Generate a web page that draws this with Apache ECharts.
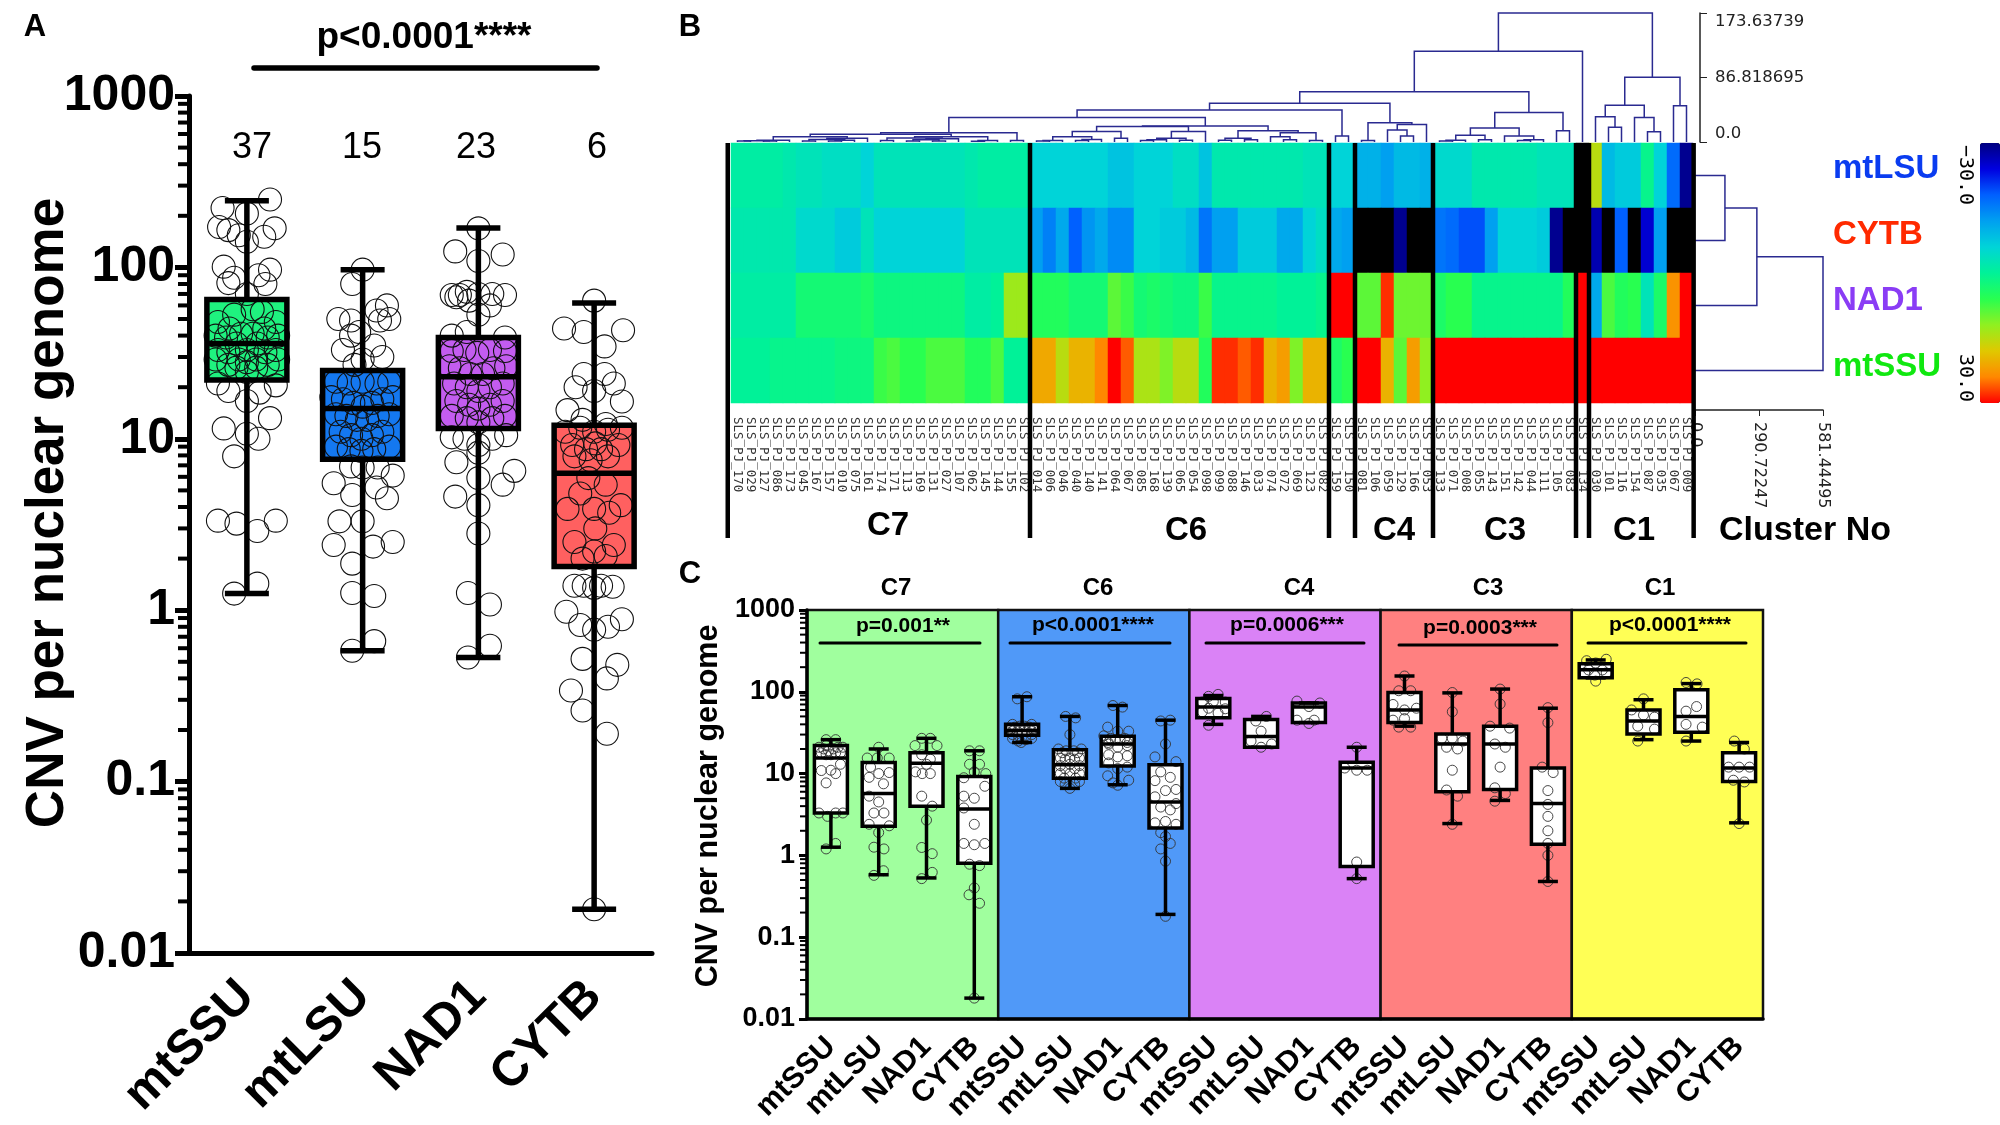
<!DOCTYPE html>
<html><head><meta charset="utf-8">
<script src="https://cdn.jsdelivr.net/npm/echarts@6/dist/echarts.min.js"></script>
<style>html,body{margin:0;padding:0;background:#fff}#c{width:2000px;height:1125px}</style>
</head><body><div id="c"></div>
<script>
// ---------- DATA ----------
const genes = ['mtSSU','mtLSU','NAD1','CYTB'];
const logTickLabels = ['0.01','0.1','1','10','100','1000'];
const nCounts = ['37','15','23','6'];
// [low, q1, median, q3, high]
const boxA = [[1.25,22,36,65,245],[0.58,7.6,15,25,97],[0.53,11.5,23,39,170],[0.018,1.8,6.3,12,62]];
const boxColorsA = ['#1ff27f','#1478f0','#c35cf0','#ff6060'];
// points: [horizontal spread in band units, value]
const ptsA_mtSSU = [[.20,249],[-.21,222],[0,206],[-.24,172],[.24,169],[-.16,165],[-.07,154],[.15,151],[0,141],[-.2,101],[.2,97],[-.11,87],[.10,90],[-.16,81],[.16,80],[0,70],[.05,57],[-.11,53],[.13,55],
[-.25,48],[-.15,44],[-.05,41],[.05,41],[.15,44],[.25,48],[-.27,40],[-.18,39],[-.09,36],[0,33],[.09,36],[.18,39],[.27,40],[-.25,33],[-.16,32],[-.07,29],[0,28],[.08,29],[.16,32],[.25,33],[-.27,29],[-.16,27],[-.09,26],[0,24.5],[.08,26],[.18,27],[.27,29],
[-.25,21],[-.16,19],[.25,20.5],[.11,18.6],[0,16.6],[-.2,11.5],[.2,13.2],[0,10.7],[.1,10],[-.11,7.9],[-.25,3.33],[-.09,3.2],[.09,2.9],[.25,3.33],[-.11,1.25],[.09,1.43]];
const ptsA_mtLSU = [[0,97],[-.09,80],[.21,60],[.12,56],[-.21,50],[-.1,49],[.23,50],[.15,49],[-.03,42],[-.1,40],[-.17,33],[.1,35],[0,29],[.17,30],[-.07,27],
[-.23,21.5],[-.12,21],[0,21.5],[.12,21],[.23,21.5],[-.27,17.5],[-.17,17],[-.08,16.2],[0,15.4],[.08,16.2],[.17,17],[.26,17.5],[-.23,13.9],[-.14,13.6],[-.05,12.9],[.04,12.9],[.13,13.6],[.23,13.9],[-.19,11],[-.1,10.5],[-.01,10],[.08,10.5],[.17,11],[-.23,9],[-.12,8.7],[-.01,8.5],[.1,8.7],[.23,9],
[-.1,6.9],[0,6.8],[.13,6.8],[-.25,5.5],[.26,6.1],[-.09,4.7],[.12,5.2],[.21,4.5],[-.2,3.3],[0,3.3],[-.25,2.4],[.09,2.35],[.26,2.5],[-.09,1.87],[-.09,1.26],[.1,1.21],[.1,.66],[-.09,.58]];
const ptsA_NAD1 = [[0,169],[-.2,124],[.21,119],[0,109],[-.23,69],[-.16,69],[-.1,72],[0,70],[.12,70],[.23,69],[-.19,67],[-.08,64],[.1,60],[0,53],[-.23,40],[-.1,42],[.23,39],
[-.23,32.5],[-.12,33],[-.01,31.7],[.1,33],[.23,32.5],[-.25,26.5],[-.16,25.8],[-.07,23.9],[.04,23.9],[.13,25.8],[.24,26.5],[-.21,21],[-.1,20],[0,19],[.1,20],[.21,21],[-.19,16.6],[-.08,15.8],[0,15],[.1,15.8],[.21,16.6],[-.23,13.6],[-.1,13.2],[0,12.5],[.12,13.2],[.23,13.6],
[-.23,10.2],[-.12,10],[0,9.2],[.12,10],[.24,10.5],[-.19,7.3],[0,8.3],[0,5.9],[.31,6.5],[.21,5.4],[-.2,4.6],[0,4.1],[0,2.8],[-.09,1.26],[.1,1.08],[.1,.62],[-.09,.53]];
const ptsA_CYTB = [[0,64],[-.26,44],[.25,43],[-.09,42],[.09,34.6],[-.09,23.9],[.09,23.9],[.17,21],[-.16,20],[0,19],[.24,16.5],[-.23,14.7],[-.1,12.9],[.1,12.2],
[-.25,11],[-.12,11.6],[0,11],[.12,11.3],[.24,11.6],[-.19,9.2],[-.07,8.7],[.01,9.4],[.06,8.7],[.21,9.2],[-.17,7.9],[-.03,7.5],[.12,7.9],[-.05,5.9],[.1,5.4],[-.12,4.8],[-.23,3.9],[0,3.9],[.23,4.1],[.13,3.7],[.01,3],[-.17,2.5],[.17,2.4],[0,2.2],[-.1,2],[.1,2.07],
[-.17,1.39],[-.09,1.39],[0,1.35],[.06,1.39],[.16,1.37],[-.24,.98],[-.12,.82],[0,.77],[.12,.8],[.24,.885],[-.1,.52],[.2,.48],[.11,.4],[-.2,.34],[-.1,.26],[.11,.19],[0,.018]];
const ptsA = [ptsA_mtSSU,ptsA_mtLSU,ptsA_NAD1,ptsA_CYTB];

const clusterNames = ['C7','C6','C4','C3','C1'];
const clusterP = ['p=0.001**','p<0.0001****','p=0.0006***','p=0.0003***','p<0.0001****'];
const bandColors = ['#a0ff9e','#5099f8','#da82f6','#ff8080','#ffff55'];
const boxC7 = [[1.26,3.3,15.5,22,26],[.58,2.27,5.7,13.7,20],[.53,4,13.4,18,27],[.018,.8,3.7,9.2,19]];
const boxC6 = [[24,29.5,33.6,40,87],[6.6,8.8,12.8,19.6,50],[7.3,12.4,23,28.7,68],[.19,2.16,4.5,12.8,45]];
const boxC4 = [[40,48,65,83,90],[21,21,28.5,46,50],[42,42,65,73,73],[.52,.73,11.7,13.8,21]];
const boxC3 = [[38,42,60,98,156],[2.45,6,23,30.5,97],[4.7,6.4,23,38,108],[.48,1.37,4.3,11.7,63]];
const boxC1 = [[148,148,186,220,245],[26,30.5,44,60,80],[25,32,50,106,126],[2.5,8,11.7,18,24]];
const ptsC7 = [
[[-.1,26],[.1,26],[-.1,22],[-.25,21],[-.15,20],[-.05,19],[.05,20],[.15,21],[.25,21],[-.2,18],[-.1,17],[0,17],[.1,18],[.2,18],[-.2,10.9],[0,11],[.2,13],[.1,10],[-.1,7.7],[-.25,3.3],[-.07,3],[.25,3.3],[.1,3.3],[.1,1.4],[-.1,1.2]],
[[0,21],[-.24,15.5],[-.03,15.5],[.22,15.5],[-.17,12],[.22,10.3],[0,10],[-.2,9],[.1,7.5],[-.2,5.3],[0,4.5],[-.1,3.3],[.11,3.3],[-.2,2.4],[.22,2.3],[0,1.9],[-.1,1.26],[.11,1.2],[.1,.65],[-.1,.57]],
[[-.1,27],[.08,27],[-.24,22],[.22,22],[-.1,17],[.08,15],[0,13],[-.23,10.5],[-.09,10],[.08,10],[-.1,5.3],[.12,4],[0,2.7],[-.1,1.25],[.12,1.05],[.12,.62],[-.1,.52]],
[[-.1,19],[.11,19],[-.1,13],[.11,13],[-.22,8.9],[.24,10],[0,10.5],[-.22,5.3],[0,5],[.22,7],[-.22,3.8],[0,2.4],[-.22,1.4],[0,1.35],[.22,1.4],[-.1,.78],[.11,.75],[0,.4],[-.11,.33],[.11,.26],[0,.018]]];
const ptsC6 = [
[[.1,87],[-.1,82],[-.2,40],[.2,40],[-.25,36],[-.15,37],[-.05,38],[.05,38],[.15,37],[.25,36],[-.2,33],[-.1,33],[0,33],[.1,33],[.2,33],[-.2,30],[-.08,29],[.08,29],[.2,30],[-.2,27],[-.08,25],[.08,26],[.2,27],[-.02,24]],
[[-.09,50],[.12,48],[0,30],[-.24,20],[.24,20],[-.16,18],[.16,18],[-.08,19],[.08,19],[-.2,15.5],[-.1,15],[0,15.5],[.1,15],[.2,15.5],[-.2,12.5],[0,13],[.2,12.5],[-.1,11.5],[.1,11.5],[-.2,10],[0,10],[.2,10],[-.12,8.8],[.12,8.8],[-.2,8],[.2,8],[-.1,7.4],[.1,7.4],[0,6.6]],
[[-.1,68],[.1,65],[-.21,37],[0,33],[.23,33],[-.29,29],[-.15,27],[.15,27],[-.05,26],[.05,26],[-.2,24],[.2,24],[-.19,23],[.2,22],[0,21],[-.19,17],[.2,16.5],[0,16],[-.19,13.5],[.2,12],[0,11.5],[-.21,9.4],[.23,8.3],[-.1,7.7],[0,7.2]],
[[.1,45],[-.1,44],[0,23],[-.22,16],[.22,14],[-.1,10.5],[.1,9],[-.22,8.2],[.22,6.4],[0,6.2],[-.22,5.2],[.22,4.3],[-.1,3.9],[.1,3.6],[-.22,2.5],[0,2.6],[.22,2.4],[-.1,1.9],[0,1.7],[.1,1.4],[-.1,1.2],[0,.85],[0,.18]]];
const ptsC4 = [
[[.1,93],[-.1,88],[-.23,75],[0,76],[.25,75],[.1,55],[-.1,63],[.25,62],[-.23,57],[-.1,39]],
[[-.11,44],[.11,50],[0,33],[-.21,25],[.22,23],[0,21]],
[[-.25,77],[.23,73],[0,66],[-.25,45],[0,41],[.11,45]],
[[0,21],[-.25,11.7],[0,11],[.22,11],[0,.83],[0,.52]]];
const ptsC3 = [
[[0,156],[-.12,103],[.13,103],[-.24,70],[0,60],[.25,63],[-.24,45],[-.12,37],[.13,37],[0,47]],
[[0,98],[0,57],[-.22,27],[0,27],[.22,25],[-.12,21],[.11,20],[0,11],[-.12,6.3],[.11,5.3],[0,2.4]],
[[0,108],[0,71],[-.21,38],[.2,36],[-.11,23],[.11,21],[0,12],[-.11,6.7],[.11,5.7],[-.11,4.6]],
[[0,64],[0,42],[-.12,12],[.11,10.3],[0,6.2],[0,4.2],[0,3],[0,2],[0,1.4],[0,1],[0,.48]]];
const ptsC1 = [
[[.22,250],[-.19,240],[0,225],[-.15,185],[.14,185],[-.02,160],[-.23,170],[.22,170],[0,135]],
[[0,82],[-.25,60],[0,52],[.23,49],[-.12,38],[.23,35],[-.12,25]],
[[-.11,130],[.12,125],[.11,66],[-.11,58],[-.11,40],[.23,37],[-.11,25]],
[[-.1,25],[.11,20],[-.22,12],[0,12],[.22,12],[-.12,8.3],[.11,7.9],[0,2.45]]];
const boxesC = [boxC7,boxC6,boxC4,boxC3,boxC1];
const ptsC = [ptsC7,ptsC6,ptsC4,ptsC3,ptsC1];

// Heat map
const heatRows = ['mtLSU','CYTB','NAD1','mtSSU'];
const rowColors = ['#0a3cf0','#ff2a00','#8a3cf5','#10e810'];
const sampleIds = ['170','029','127','086','173','045','167','157','010','075','161','174','171','113','169','131','027','107','062','145','144','155','102',
'014','006','046','040','140','141','064','067','085','168','139','065','054','098','099','088','146','033','074','072','069','123','082',
'159','150','081','106','059','129','166','053','133','071','008','055','143','151','142','044','111','105','083','134','030','101','116','154','087','035','067','009'];
const heat_mtLSU = [-1,-1,-1,-1,-2,-3,-3,-4,-4,-4,-6,-3,-3,-3,-3,-3,-3,-3,-2,-1,-1,-1,-1,
-6,-6,-6,-6,-6,-6,-8,-8,-6,-6,-6,-4,-4,-8,-2,-2,-2,-2,-2,-2,-2,-3,-3,
-6,-6,-10,-10,-12,-9,-9,-10,-5,-5,-5,-2,-2,-2,-2,-2,-3,-3,-3,-35,15,-9,-7,-7,1,-6,-17,-29];
const heat_CYTB = [-2,-2,-2,-2,-2,-5,-5,-5,-7,-7,-3,-6,-6,-6,-6,-6,-6,-6,-3,-3,-3,-3,-3,
-12,-15,-11,-18,-13,-11,-14,-14,-6,-6,-7,-7,-9,-16,-12,-12,-7,-7,-7,-11,-11,-6,-4,
-11,-12,-35,-35,-35,-29,-35,-35,-16,-17,-19,-19,-12,-6,-6,-6,-7,-29,-35,-35,-27,-35,-18,-35,-25,-12,-35,-35];
const heat_NAD1 = [-1,-1,-1,-1,-1,3,3,3,3,3,4,2,2,2,2,2,2,2,-1,-1,0,13,13,
5,5,5,3,3,3,9,7,3,4,3,2,2,7,1,1,1,1,1,0,0,0,1,
30,30,9,9,28,10,10,10,4,6,6,1,1,1,1,1,1,1,5,30,-11,8,5,6,-3,4,23,30];
const heat_mtSSU = [0,0,0,1,1,1,1,1,2,2,2,7,8,6,6,8,8,8,5,5,8,0,0,
21,21,15,20,20,24,30,26,14,14,11,15,15,5,28,28,26,28,20,22,11,20,20,
4,6,30,30,20,9,22,12,30,30,30,30,30,30,30,30,30,30,30,30,30,30,30,30,30,30,30,30];
const heatValues = [heat_mtLSU,heat_CYTB,heat_NAD1,heat_mtSSU];
const clusterBounds = [-0.25,23,46,48,54,65,66,74.05];
const heatColors = ['#000080','#0000e0','#0060ff','#00a0f0','#00d4d8','#00f298','#28ff50','#90f020','#e0c800','#ff8800','#ff0000'];

// Dendrograms: [height, left, right]; a number is a leaf index
const C7a=[2.5,[1.6,[1.2,0,1],[1.2,2,3]],4];
const C7b=[5,[3.5,[1.5,5,6],[2.5,[1.5,7,8],9]],10];
const C7c=[5.5,[2,11,12],[4.5,[3,[1.5,13,14],[1.5,15,16]],17]];
const C7d=[2,[1,18,19],20];
const treeC7=[12.5,[10.3,[7,C7a,C7b],[7,C7c,C7d]],[2,21,22]];
const C6a=[14,[7,[2,[1.5,23,24],25],[3.5,[2,26,27],28]],[5,29,30]];
const C6b=[14,[5,[3,[2,31,32],33],[2.5,34,35]],36];
const C6c=[15,[5,[2.5,37,38],[3,39,40]],[12.5,[7,41,[3,42,43]],[2,44,45]]];
const treeC6=[21.5,[21,C6a,C6b],C6c];
const treeA=[52,[43,[33,treeC7,treeC6],[8,46,47]],[26,[2,48,49],[23.5,[16,50,[8,51,52]],53]]];
const treeB=[39.7,[19,[9,[2.5,[1.5,54,55],56],[3,57,58]],[8,59,[3,[2,60,61],62]]],[15,63,64]];
const treeD=[87,[49.6,[34,66,[20,67,68]],[33,69,[13.7,70,71]]],[48.7,72,73]];
const topTree=[173.63739,[122.3,[67.5,treeA,treeB],65],treeD];
const rowTree=[581.44495,[281,[136,0,1],2],3];
const rightAxisLabels=['0.0','290.72247','581.44495'];
const topAxisLabels=['0.0','86.818695','173.63739'];

// ---------- HELPERS ----------
function flatten(t,out){ if(typeof t==='number') return [t+.5,0];
  const l=flatten(t[1],out), r=flatten(t[2],out);
  out.push([l[0],l[1],r[0],r[1],t[0]]); return [(l[0]+r[0])/2,t[0]]; }
const topMerges=[]; flatten(topTree,topMerges);
const rowMerges=[]; flatten(rowTree,rowMerges);
const minorVals=[]; for(let d=-2;d<3;d++) for(let k=2;k<10;k++) minorVals.push(k*Math.pow(10,d));
const ln=(x1,y1,x2,y2,st,z)=>({type:'line',z:z||0,shape:{x1,y1,x2,y2},style:st});
const BOLD='bold', SANS='"Liberation Sans",Arial,sans-serif';

function boxSeries(name,xi,yi,rows,halfBox,halfCap,lw,fills){
  const data=rows.map((r,i)=>[i].concat(r));
  const fill={type:'custom',name:name+' fill',xAxisIndex:xi,yAxisIndex:yi,z:3,data,silent:true,encode:{x:0,y:[1,2,3,4,5]},
    renderItem(p,api){const c=api.coord([api.value(0),api.value(4)]),b=api.coord([api.value(0),api.value(2)]);
      return {type:'rect',shape:{x:c[0]-halfBox,y:c[1],width:2*halfBox,height:b[1]-c[1]},style:{fill:fills(p.dataIndex)}};}};
  const lines={type:'custom',name:name+' lines',xAxisIndex:xi,yAxisIndex:yi,z:5,data,silent:true,encode:{x:0,y:[1,2,3,4,5]},
    renderItem(p,api){const v=i=>api.coord([api.value(0),api.value(i)]);
      const x=v(1)[0],lo=v(1)[1],q1=v(2)[1],m=v(3)[1],q3=v(4)[1],hi=v(5)[1];
      const st={stroke:'#000',lineWidth:lw,fill:null};
      return {type:'group',children:[
        ln(x,hi,x,q3,st),ln(x,q1,x,lo,st),ln(x-halfCap,hi,x+halfCap,hi,st),ln(x-halfCap,lo,x+halfCap,lo,st),
        ln(x-halfBox,m,x+halfBox,m,st),
        {type:'rect',shape:{x:x-halfBox,y:q3,width:2*halfBox,height:q1-q3},style:{fill:null,stroke:'#000',lineWidth:lw}}]};}};
  return [fill,lines];
}
// logarithmic minor ticks, drawn by the library on the axis scale (left side of the axis line)
function minorSeries(xi,yi,len,w){return {type:'scatter',xAxisIndex:xi,yAxisIndex:yi,z:12,silent:true,clip:false,symbol:'rect',
  symbolSize:[len,w],symbolOffset:[-len/2,0],itemStyle:{color:'#000',opacity:1},data:minorVals.map(v=>[0,v])};}
const logFmt=v=>logTickLabels[Math.round(Math.log10(v))+2];

const series=[];
// Panel A
series.push(...boxSeries('A',0,0,boxA,40,22,5.5,i=>boxColorsA[i]));
ptsA.forEach((pts,i)=>series.push({type:'scatter',xAxisIndex:1,yAxisIndex:0,z:4,silent:true,symbol:'circle',symbolSize:23,
  itemStyle:{color:'rgba(0,0,0,0)',borderColor:'#111',borderWidth:1.1,opacity:1},data:pts.map(p=>[i+.5+p[0],p[1]])}));
series.push(minorSeries(1,0,11,4));
// Panel C
series.push({type:'custom',xAxisIndex:3,yAxisIndex:1,z:1,silent:true,data:bandColors.map((c,i)=>[i*4,.01]),encode:{x:0,y:1},
  renderItem(p,api){const a=api.coord([api.value(0),1000]),b=api.coord([api.value(0)+4,.01]);
    return {type:'rect',shape:{x:a[0],y:a[1],width:b[0]-a[0],height:b[1]-a[1]},style:{fill:bandColors[p.dataIndex],stroke:'#111',lineWidth:2.5}};}});
const flatBoxes=[].concat(...boxesC);
series.push(...boxSeries('C',2,1,flatBoxes,16.5,10,3.5,()=>'#fff'));
const ptsCFlat=[]; ptsC.forEach((cl,b)=>cl.forEach((pts,g)=>pts.forEach(p=>ptsCFlat.push([b*4+g+.5+p[0],p[1]]))));
series.push({type:'scatter',xAxisIndex:3,yAxisIndex:1,z:4,silent:true,symbol:'circle',symbolSize:10,
  itemStyle:{color:'rgba(0,0,0,0)',borderColor:'#333',borderWidth:.9,opacity:1},data:ptsCFlat});
series.push(minorSeries(3,1,7,2));
// Panel B
series.push({type:'custom',xAxisIndex:4,yAxisIndex:2,silent:true,data:topMerges,encode:{x:[0,2],y:[1,3,4]},
  renderItem(p,api){const v=i=>api.value(i),a=api.coord([v(0),v(1)]),b=api.coord([v(0),v(4)]),c=api.coord([v(2),v(4)]),d=api.coord([v(2),v(3)]);
    return {type:'polyline',shape:{points:[a,b,c,d]},style:{stroke:'#2a2a90',lineWidth:1.5,fill:null}};}});
const heatData=[]; heatValues.forEach((row,r)=>row.forEach((v,c)=>heatData.push([c,r,v])));
series.push({type:'heatmap',xAxisIndex:5,yAxisIndex:3,data:heatData,progressive:0,silent:true,emphasis:{disabled:true}});
series.push({type:'custom',xAxisIndex:6,yAxisIndex:3,z:8,silent:true,data:clusterBounds.map(b=>[b,0]),encode:{x:0,y:1},
  renderItem(p,api){const c=api.coord([api.value(0),0]);return ln(c[0],143,c[0],538,{stroke:'#000',lineWidth:4.5});}});
series.push({type:'custom',xAxisIndex:7,yAxisIndex:4,silent:true,data:rowMerges,encode:{x:[1,3,4],y:[0,2]},
  renderItem(p,api){const v=i=>api.value(i),a=api.coord([v(1),v(0)]),b=api.coord([v(4),v(0)]),c=api.coord([v(4),v(2)]),d=api.coord([v(3),v(2)]);
    return {type:'polyline',shape:{points:[a,b,c,d]},style:{stroke:'#2a2a90',lineWidth:1.5,fill:null}};}});

// ---------- ANNOTATIONS ----------
const T=(text,x,y,size,opt={})=>({type:'text',x,y,rotation:opt.rot||0,z:20,style:{text,fill:opt.fill||'#000',
  font:(opt.weight||'bold')+' '+size+'px '+(opt.family||SANS),textAlign:opt.align||'center',textVerticalAlign:'middle'}});
const graphic=[T('A',35,27,31),T('B',690,27,31),T('C',690,574,31),
  T('CNV per nuclear genome',48,513,53,{rot:Math.PI/2}),T('CNV per nuclear genome',709,806,30.5,{rot:Math.PI/2}),
  T('p<0.0001****',424,38,37),ln(254,68,597,68,{stroke:'#000',lineWidth:5.5,lineCap:'round'},20)];
[252,362,476,597].forEach((x,i)=>graphic.push(T(nCounts[i],x,148,36,{weight:'normal'})));
[896,1098,1299,1488,1660].forEach((x,i)=>graphic.push(T(clusterNames[i],x,588,24)));
[903,1093,1287,1480,1670].forEach((x,i)=>graphic.push(T(clusterP[i],x,[626,625,625,628,625][i],21)));
[[820,980,643],[1010,1170,643],[1206,1364,643],[1399,1557,645],[1588,1746,643]].forEach(s=>graphic.push(ln(s[0],s[2],s[1],s[2],{stroke:'#000',lineWidth:3,lineCap:'round'},20)));
[888,1186,1394,1505,1634].forEach((x,i)=>graphic.push(T(clusterNames[i],x,i?531:526,33)));
graphic.push(T('Cluster No',1805,531,34));
[169,235,301,367].forEach((y,i)=>graphic.push(T(heatRows[i],1833,y,33,{fill:rowColors[i],align:'left'})));
graphic.push(T('\u221230.0',1965,175,20,{weight:'normal',family:'"DejaVu Sans Mono"',rot:-Math.PI/2}));
graphic.push(T('30.0',1965,378,20,{weight:'normal',family:'"DejaVu Sans Mono"',rot:-Math.PI/2}));

// ---------- CHART ----------
const hidden=(g,min,max)=>({type:'value',gridIndex:g,min,max,show:false});
const chart=echarts.init(document.getElementById('c'));
const G=(left,top,width,height)=>({left,top,width,height,outerBoundsMode:'none'});
chart.setOption({
  animation:false,backgroundColor:'#fff',
  textStyle:{fontFamily:SANS},
  grid:[G(189,96,463,857),G(807,610,956,409),G(731,13,962,129),G(731,143,962,260),G(1695,143,128,260)],
  xAxis:[
    {type:'category',gridIndex:0,data:genes,z:10,axisLine:{lineStyle:{color:'#000',width:5}},axisTick:{alignWithLabel:true,length:14,lineStyle:{color:'#000',width:5}},
      axisLabel:{interval:0,rotate:45,margin:36,color:'#000',fontSize:49,fontWeight:BOLD,fontFamily:SANS}},
    hidden(0,0,4),
    {type:'category',gridIndex:1,data:[].concat(genes,genes,genes,genes,genes),z:10,axisLine:{lineStyle:{color:'#000',width:3.5}},axisTick:{alignWithLabel:true,length:8,lineStyle:{color:'#000',width:3}},
      axisLabel:{interval:0,rotate:45,margin:23,color:'#000',fontSize:30,fontWeight:BOLD,fontFamily:SANS}},
    hidden(1,0,20),
    hidden(2,0,74),
    {type:'category',gridIndex:3,data:sampleIds.map(s=>'SLS_PJ_'+s),axisLine:{show:false},axisTick:{show:false},
      axisLabel:{interval:0,rotate:-90,margin:14,color:'#333',fontSize:12.5,fontFamily:'"DejaVu Sans Mono"'}},
    hidden(3,0,74),
    {type:'value',gridIndex:4,min:0,max:581.44495,interval:290.72247,offset:7,splitLine:{show:false},axisLine:{onZero:false,lineStyle:{color:'#222',width:1.5}},axisTick:{length:6,lineStyle:{color:'#222'}},
      axisLabel:{rotate:-90,margin:12,color:'#222',fontSize:16,fontFamily:'"DejaVu Sans"',formatter:(v,i)=>rightAxisLabels[i]}}
  ],
  yAxis:[
    {type:'log',gridIndex:0,min:.01,max:1000,z:10,splitLine:{show:false},minorTick:{show:false},
      axisLine:{show:true,lineStyle:{color:'#000',width:5}},axisTick:{show:true,length:14,lineStyle:{color:'#000',width:5}},
      axisLabel:{margin:14,color:'#000',fontSize:50,fontWeight:BOLD,fontFamily:SANS,formatter:logFmt}},
    {type:'log',gridIndex:1,min:.01,max:1000,z:10,splitLine:{show:false},minorTick:{show:false},
      axisLine:{show:true,lineStyle:{color:'#000',width:3.5}},axisTick:{show:true,length:8,lineStyle:{color:'#000',width:3}},
      axisLabel:{margin:12,color:'#000',fontSize:27,fontWeight:BOLD,fontFamily:SANS,formatter:logFmt}},
    {type:'value',gridIndex:2,position:'right',offset:7,min:0,max:173.63739,interval:86.818695,splitLine:{show:false},
      axisLine:{show:true,onZero:false,lineStyle:{color:'#222',width:1.5}},axisTick:{show:true,length:7,lineStyle:{color:'#222'}},
      axisLabel:{margin:15,color:'#222',fontSize:16.5,fontFamily:'"DejaVu Sans"',verticalAlignMaxLabel:'top',verticalAlignMinLabel:'bottom',formatter:(v,i)=>topAxisLabels[i]}},
    {type:'category',gridIndex:3,data:heatRows,inverse:true,show:false},
    {type:'value',gridIndex:4,min:0,max:4,inverse:true,show:false}
  ],
  visualMap:{type:'continuous',seriesIndex:series.findIndex(s=>s.type==='heatmap'),min:-30.01,max:30,range:[-30,30],inverse:true,calculable:false,
    left:1980,top:143,itemWidth:20,itemHeight:260,padding:0,text:null,hoverLink:false,
    inRange:{color:heatColors},outOfRange:{color:'#000'}},
  series,graphic
});
</script></body></html>
